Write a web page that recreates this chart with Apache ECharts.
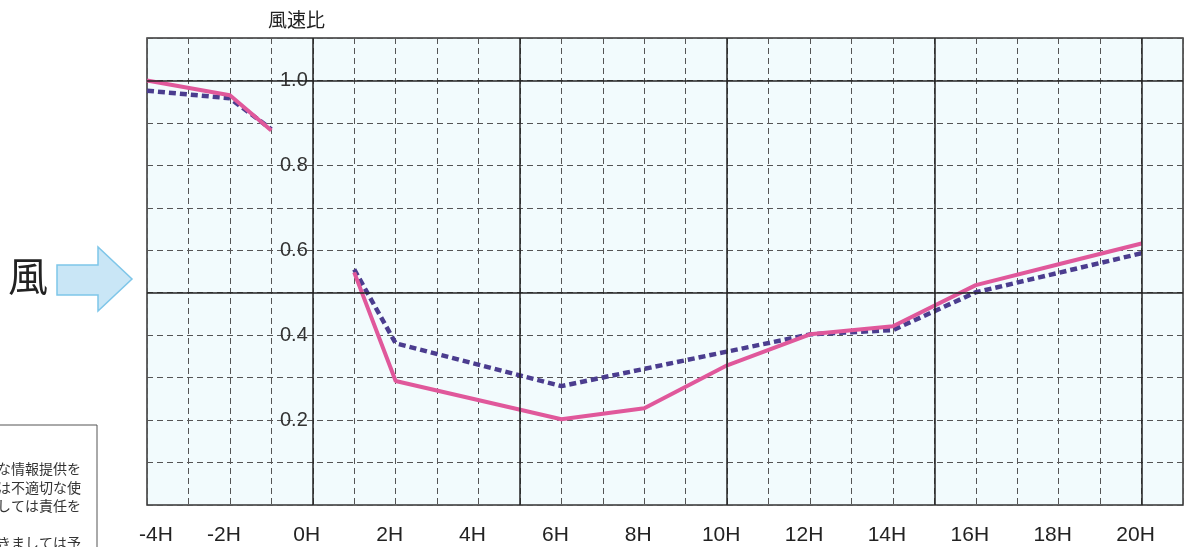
<!DOCTYPE html>
<html>
<head>
<meta charset="utf-8">
<script src="https://cdn.jsdelivr.net/npm/echarts@6/dist/echarts.min.js"></script>
<style>
html,body{margin:0;padding:0;background:#fff;}
#c{width:1196px;height:547px;}
</style>
</head>
<body>
<div id="c"></div>
<script>
// ---- data ----
var xTickHours = [-4,-2,0,2,4,6,8,10,12,14,16,18,20];
var yTickValues = [0.2,0.4,0.6,0.8,1.0];
var majorHours = [0,5,10,15,20];
var majorRatios = [0.5,1.0];
// solid pink line (null = gap)
var pinkHours  = [-4, -2,    -1,    0,    1,     2,     6,     8,     10,    12,    14,    16,    18,    20];
var pinkValues = [1.0, 0.965, 0.882, null, 0.548, 0.292, 0.202, 0.228, 0.329, 0.402, 0.421, 0.518, 0.567, 0.616];
// dashed navy line
var navyHours  = [-4,    -2,    -1,    0,    1,     2,     6,     12,    14,    16,    20];
var navyValues = [0.976, 0.958, 0.885, null, 0.555, 0.381, 0.280, 0.402, 0.412, 0.501, 0.593];

var yTitle = '風速比';
var windLabel = '風';
var noteLines = ['な情報提供を','は不適切な使','しては責任を','','きましては予'];

function pairs(h, v){
  return h.map(function(x,i){ return [x, v[i]==null ? '-' : v[i]]; });
}

var chart = echarts.init(document.getElementById('c'));
var textFont = '"Liberation Sans", Arial, "Noto Sans CJK JP", sans-serif';

var graphics = [
  {type:'text', left: 268, top: 10, style:{text: yTitle, font:'19px "Noto Sans CJK JP", sans-serif', fill:'#222'}},
  {type:'text', left: 8, top: 256, style:{text: windLabel, font:'40px "Noto Sans CJK JP", sans-serif', fill:'#222'}},
  {type:'polygon', shape:{points:[[57,265],[98,265],[98,247],[132,279],[98,311],[98,295],[57,295]]},
   style:{fill:'#c9e6f6', stroke:'#7ec6e9', lineWidth:1.5}},
  {type:'rect', shape:{x:-10, y:425, width:107, height:140}, style:{fill:'#fff', stroke:'#555', lineWidth:1}}
];
var noteY = [462, 481, 499, 517, 536];
noteLines.forEach(function(t,i){
  if(!t) return;
  graphics.push({type:'text', x: 81, y: noteY[i], style:{text:t, font:'14px "Noto Sans CJK JP", serif', fill:'#333', align:'right', verticalAlign:'top'}});
});

var option = {
  animation:false,
  backgroundColor:'#ffffff',
  grid:{left:147, right:13, top:38, bottom:42, show:true, backgroundColor:'#f2fbfd', borderColor:'#333', borderWidth:1.5},
  xAxis:{
    type:'value', min:-4, max:21, interval:1,
    axisLine:{show:false, onZero:false},
    axisTick:{show:false},
    axisLabel:{
      margin:20, fontSize:21, color:'#222', fontFamily:textFont,
      padding:[0,12,0,0],
      rich:{first:{fontSize:21, color:'#222', fontFamily:textFont, padding:[0,0,0,30]}},
      formatter:function(v){
        if (xTickHours.indexOf(v) < 0) return '';
        return v === xTickHours[0] ? '{first|' + v + 'H}' : v + 'H';
      }
    },
    splitLine:{show:true, lineStyle:{color:'#555', type:[6,4], width:1}}
  },
  yAxis:{
    type:'value', min:0, max:1.1, interval:0.1, position:'left', offset:0,
    axisLine:{show:false, onZero:false},
    axisTick:{show:false},
    axisLabel:{
      margin:5, fontSize:20, color:'#333', fontFamily:textFont,
      formatter:function(v){
        var r = Math.round(v*10)/10;
        return yTickValues.some(function(t){return Math.abs(t-r)<1e-6;}) ? r.toFixed(1) : '';
      }
    },
    splitLine:{show:true, lineStyle:{color:'#555', type:[6,4], width:1}}
  },
  series:[
    {
      type:'line', data:[], silent:true,
      markLine:{
        silent:true, symbol:['none','none'], label:{show:false},
        lineStyle:{color:'#222', type:'solid', width:1.5},
        data: majorHours.map(function(h){return {xAxis:h};}).concat(majorRatios.map(function(r){return {yAxis:r};}))
      }
    },
    {
      type:'line', data:pairs(navyHours, navyValues), showSymbol:false, connectNulls:false,
      lineStyle:{color:'#4b3d8f', width:4.5, type:[7,4]}, z:3
    },
    {
      type:'line', data:pairs(pinkHours, pinkValues), showSymbol:false, connectNulls:false,
      lineStyle:{color:'#e0589b', width:4}, z:4
    }
  ],
  graphic: graphics
};
chart.setOption(option);
// move the y-axis labels onto the 0H line, using the library's own x scale
var x0 = chart.convertToPixel({xAxisIndex:0}, 0);
var xLeft = chart.convertToPixel({xAxisIndex:0}, -4);
chart.setOption({yAxis:{offset: -(x0 - xLeft)}});
</script>
</body>
</html>
